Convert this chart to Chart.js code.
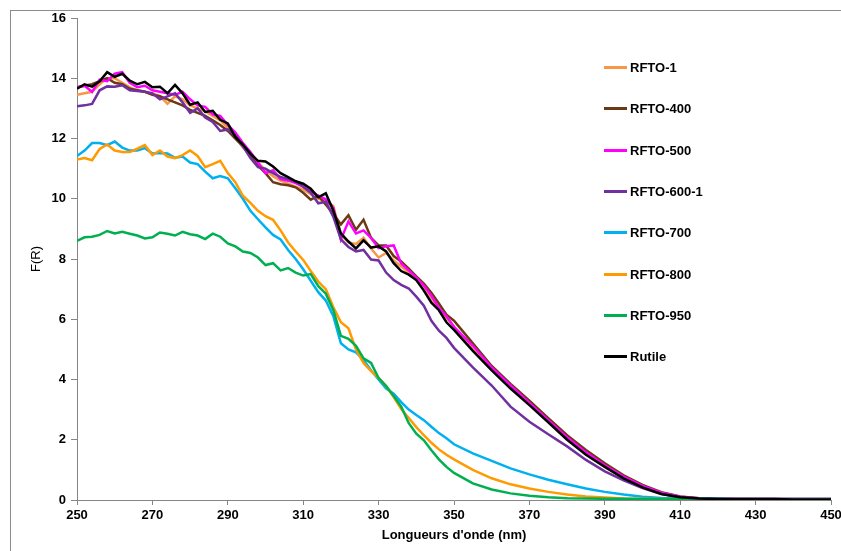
<!DOCTYPE html>
<html>
<head>
<meta charset="utf-8">
<title>F(R) - RFTO</title>
<script src="https://cdn.jsdelivr.net/npm/chart.js@4.4.1/dist/chart.umd.min.js"></script>
<style>
    html, body { margin: 0; padding: 0; background: #fff; }
    #wrap { width: 841px; height: 551px; }
</style>
</head>
<body>
<div id="wrap"><canvas id="spectra" width="841" height="551"></canvas></div>
<script>
// Wavelengths (nm): 2 nm steps up to 350, then 5 nm steps
const wavelengths = [
    250, 252, 254, 256, 258, 260, 262, 264, 266, 268,
    270, 272, 274, 276, 278, 280, 282, 284, 286, 288,
    290, 292, 294, 296, 298, 300, 302, 304, 306, 308,
    310, 312, 314, 316, 318, 320, 322, 324, 326, 328,
    330, 332, 334, 336, 338, 340, 342, 344, 346, 348,
    350,
    355, 360, 365, 370, 375, 380, 385, 390, 395, 400,
    405, 410, 415, 420, 425, 430, 435, 440, 445, 450,
];

// Kubelka-Munk function F(R) per sample
const rfto1 = [
    13.45, 13.5, 13.55, 13.8, 14.0, 14.0, 13.85, 13.7, 13.6, 13.55,
    13.5, 13.4, 13.15, 13.4, 13.3, 13.1, 13.0, 12.9, 12.75, 12.6,
    12.35, 12.05, 11.7, 11.45, 11.2, 10.95, 10.75, 10.6, 10.5, 10.4,
    10.3, 10.15, 10.0, 9.95, 9.75, 8.8, 8.55, 8.5, 8.7, 8.35,
    8.05, 8.2, 7.95, 7.75, 7.55, 7.3, 7.05, 6.7, 6.35, 6.05,
    5.75,
    5.0, 4.35, 3.75, 3.2, 2.62, 2.05, 1.55, 1.1, 0.74, 0.44,
    0.22, 0.1, 0.05, 0.04, 0.03, 0.03, 0.03, 0.03, 0.03, 0.03,
];
const rfto400 = [
    13.7, 13.75, 13.8, 13.9, 14.0, 13.85, 13.8, 13.65, 13.6, 13.55,
    13.45, 13.4, 13.3, 13.2, 13.1, 12.95, 12.85, 12.75, 12.6, 12.45,
    12.25, 12.0, 11.75, 11.45, 11.1, 10.85, 10.55, 10.48, 10.45, 10.38,
    10.2, 9.97, 10.1, 9.8, 9.5, 9.15, 9.45, 8.97, 9.3, 8.7,
    8.45, 8.45, 8.1, 7.92, 7.68, 7.42, 7.18, 6.88, 6.52, 6.15,
    5.95,
    5.2, 4.45, 3.85, 3.3, 2.72, 2.15, 1.66, 1.22, 0.82, 0.5,
    0.26, 0.12, 0.06, 0.04, 0.03, 0.03, 0.03, 0.03, 0.03, 0.03,
];
const rfto500 = [
    13.7, 13.75, 13.55, 13.95, 13.9, 14.15, 14.2, 13.85, 13.7, 13.75,
    13.6, 13.55, 13.5, 13.45, 13.55, 13.3, 13.1, 13.05, 12.8, 12.75,
    12.45, 12.2, 11.85, 11.55, 11.2, 10.85, 10.95, 10.65, 10.6, 10.52,
    10.4, 10.25, 10.1, 9.98, 9.7, 8.65, 9.25, 8.85, 8.95, 8.7,
    8.36, 8.42, 8.45, 7.85, 7.62, 7.38, 7.12, 6.78, 6.38, 6.1,
    5.75,
    5.12, 4.4, 3.8, 3.22, 2.65, 2.08, 1.58, 1.15, 0.78, 0.47,
    0.24, 0.11, 0.06, 0.04, 0.03, 0.03, 0.03, 0.03, 0.03, 0.03,
];
const rfto600 = [
    13.07, 13.1, 13.15, 13.6, 13.73, 13.72, 13.77, 13.6, 13.58, 13.55,
    13.5, 13.3, 13.4, 13.5, 13.2, 12.85, 13.0, 12.7, 12.55, 12.25,
    12.3, 12.1, 11.75, 11.35, 11.05, 11.0, 10.85, 10.72, 10.65, 10.58,
    10.4, 10.2, 9.85, 9.9, 9.4, 8.65, 8.4, 8.25, 8.3, 7.98,
    7.95, 7.55, 7.3, 7.14, 7.02, 6.75, 6.45, 5.95, 5.62, 5.38,
    5.05,
    4.4, 3.8, 3.1, 2.6, 2.18, 1.78, 1.33, 0.95, 0.65, 0.4,
    0.2, 0.09, 0.05, 0.03, 0.02, 0.02, 0.02, 0.02, 0.02, 0.02,
];
const rfto700 = [
    11.42, 11.6, 11.85, 11.85, 11.78, 11.9, 11.7, 11.6, 11.6, 11.68,
    11.5, 11.52, 11.5, 11.36, 11.4, 11.2, 11.15, 10.9, 10.68, 10.75,
    10.68, 10.35, 10.0, 9.6, 9.32, 9.05, 8.8, 8.65, 8.3, 8.0,
    7.66, 7.28, 6.9, 6.62, 6.1, 5.2, 5.0, 4.9, 4.65, 4.3,
    4.0, 3.7, 3.53, 3.25, 3.0, 2.82, 2.65, 2.43, 2.22, 2.05,
    1.85,
    1.55, 1.3, 1.05, 0.85, 0.67, 0.52, 0.38, 0.27, 0.18, 0.11,
    0.07, 0.05, 0.04, 0.04, 0.03, 0.03, 0.03, 0.03, 0.03, 0.03,
];
const rfto800 = [
    11.3, 11.35, 11.28, 11.65, 11.8, 11.6, 11.55, 11.55, 11.66, 11.78,
    11.45, 11.6, 11.4, 11.35, 11.45, 11.6, 11.42, 11.05, 11.15, 11.26,
    10.85, 10.55, 10.1, 9.86, 9.6, 9.42, 9.3, 8.95, 8.55, 8.25,
    7.97, 7.6, 7.25, 7.0, 6.4, 5.9, 5.7, 5.0, 4.55, 4.28,
    4.05, 3.78, 3.42, 3.02, 2.72, 2.42, 2.15, 1.9, 1.68, 1.5,
    1.35,
    1.0, 0.72, 0.52, 0.38, 0.27, 0.18, 0.12, 0.08, 0.05, 0.04,
    0.03, 0.03, 0.03, 0.02, 0.02, 0.02, 0.02, 0.02, 0.02, 0.02,
];
const rfto950 = [
    8.6, 8.72, 8.74, 8.8, 8.93, 8.85, 8.9, 8.84, 8.78, 8.68,
    8.72, 8.88, 8.84, 8.78, 8.9, 8.82, 8.78, 8.66, 8.84, 8.74,
    8.52, 8.42, 8.25, 8.2, 8.05, 7.8, 7.86, 7.62, 7.7, 7.55,
    7.45, 7.5, 7.1, 6.85, 6.3, 5.45, 5.35, 5.12, 4.7, 4.55,
    4.05, 3.78, 3.45, 3.1, 2.55, 2.2, 1.98, 1.65, 1.35, 1.1,
    0.9,
    0.55, 0.35, 0.22, 0.14, 0.09, 0.06, 0.05, 0.04, 0.04, 0.03,
    0.03, 0.03, 0.03, 0.03, 0.02, 0.02, 0.02, 0.02, 0.02, 0.02,
];
const rutile = [
    13.65, 13.8, 13.72, 13.9, 14.2, 14.05, 14.15, 13.92, 13.8, 13.88,
    13.7, 13.72, 13.5, 13.78, 13.5, 13.12, 13.2, 12.88, 12.92, 12.62,
    12.5, 12.05, 11.8, 11.5, 11.26, 11.24, 11.07, 10.85, 10.72, 10.58,
    10.5, 10.33, 10.05, 10.18, 9.6, 8.85, 8.58, 8.35, 8.62, 8.38,
    8.42, 8.25, 7.86, 7.6, 7.48, 7.3, 6.95, 6.55, 6.3, 5.9,
    5.65,
    4.95, 4.3, 3.7, 3.15, 2.58, 2.0, 1.5, 1.1, 0.72, 0.42,
    0.2, 0.09, 0.05, 0.03, 0.03, 0.03, 0.03, 0.02, 0.02, 0.02,
];

const seriesNames = ["RFTO-1", "RFTO-400", "RFTO-500", "RFTO-600-1", "RFTO-700", "RFTO-800", "RFTO-950", "Rutile"];
const seriesData = [rfto1, rfto400, rfto500, rfto600, rfto700, rfto800, rfto950, rutile];
const seriesColors = ["#f79646", "#6b3a12", "#ff00ff", "#7030a0", "#00b0f0", "#ff9a00", "#00b050", "#000000"];

const FONT = '"Liberation Sans", Arial, Helvetica, sans-serif';
const AXIS_GREY = "#868686";

// white background + thin outer frame
const chartFrame = {
    id: "chartFrame",
    beforeDraw(chart) {
        const ctx = chart.ctx;
        ctx.save();
        ctx.fillStyle = "#ffffff";
        ctx.fillRect(0, 0, chart.width, chart.height);
        ctx.strokeStyle = "#8c8c8c";
        ctx.lineWidth = 1;
        ctx.strokeRect(10.5, 10.5, chart.width + 20, chart.height + 20);
        ctx.restore();
    },
};

// legend column floating over the empty upper right of the plot
const sideLegend = {
    id: "sideLegend",
    afterDraw(chart) {
        const ctx = chart.ctx;
        ctx.save();
        ctx.font = "bold 13px " + FONT;
        ctx.textBaseline = "middle";
        ctx.textAlign = "left";
        chart.data.datasets.forEach((ds, i) => {
            const y = Math.round(67 + i * 41.3) + 0.5;
            ctx.strokeStyle = ds.borderColor;
            ctx.lineWidth = 3;
            ctx.beginPath();
            ctx.moveTo(604, y);
            ctx.lineTo(627, y);
            ctx.stroke();
            ctx.fillStyle = "#000";
            ctx.fillText(ds.label, 630, y + 1);
        });
        ctx.restore();
    },
};

const datasets = seriesNames.map((name, i) => ({
    label: name,
    data: wavelengths.map((x, k) => ({ x: x, y: seriesData[i][k] })),
    borderColor: seriesColors[i],
    backgroundColor: seriesColors[i],
    borderWidth: 2.5,
    pointRadius: 0,
    tension: 0,
    fill: false,
    // later series are painted on top
    order: seriesNames.length - i,
}));

Chart.defaults.font.family = FONT;
Chart.defaults.color = "#000";

new Chart(document.getElementById("spectra"), {
    type: "line",
    data: { datasets: datasets },
    options: {
        responsive: false,
        animation: false,
        layout: { padding: { top: 18, right: 10, left: 0, bottom: 0 } },
        plugins: {
            legend: { display: false },
            tooltip: { enabled: false },
        },
        scales: {
            x: {
                type: "linear",
                min: 250,
                max: 450,
                ticks: {
                    stepSize: 20,
                    maxRotation: 0,
                    padding: 3,
                    font: { size: 13, weight: "bold" },
                    color: "#000",
                },
                grid: {
                    drawOnChartArea: false,
                    drawTicks: true,
                    tickLength: 5,
                    color: AXIS_GREY,
                },
                border: { display: true, color: AXIS_GREY },
                title: {
                    display: true,
                    text: "Longueurs d'onde (nm)",
                    font: { size: 13, weight: "bold" },
                    color: "#000",
                    padding: { top: 8, bottom: 8 },
                },
                afterFit(scale) {
                    scale.height = 51;
                    // let the last tick label hang past the plot edge
                    scale.paddingLeft = 0;
                    scale.paddingRight = 0;
                },
            },
            y: {
                min: 0,
                max: 16,
                ticks: {
                    stepSize: 2,
                    padding: 5,
                    font: { size: 13, weight: "bold" },
                    color: "#000",
                },
                grid: {
                    drawOnChartArea: false,
                    drawTicks: true,
                    tickLength: 6,
                    color: AXIS_GREY,
                },
                border: { display: true, color: AXIS_GREY },
                title: {
                    display: true,
                    text: "F(R)",
                    font: { size: 13, weight: "normal" },
                    color: "#000",
                    padding: { top: 29, bottom: 0 },
                },
                afterFit(scale) { scale.width = 77; },
            },
        },
    },
    plugins: [chartFrame, sideLegend],
});
</script>
</body>
</html>
